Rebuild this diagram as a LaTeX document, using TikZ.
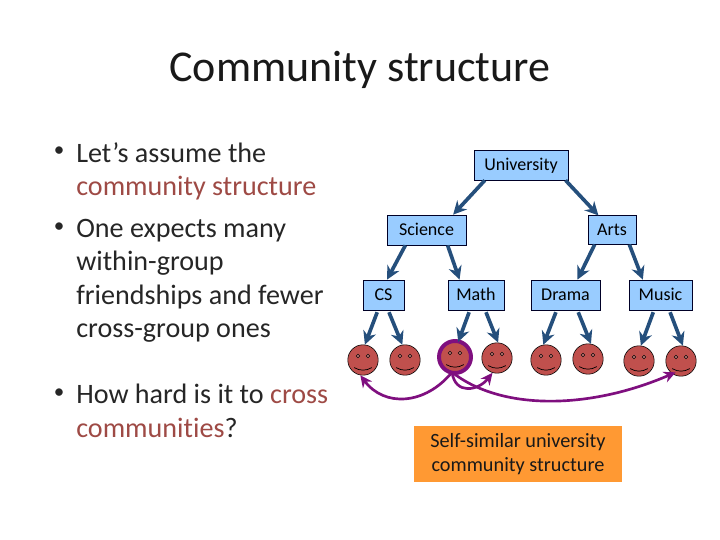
\documentclass[tikz,border=0pt]{standalone}
\usepackage{fontspec}
\setmainfont[Ligatures=CommonOff]{Carlito}
\usetikzlibrary{positioning, arrows.meta}
\definecolor{boxblue}{HTML}{99CCFF}
\definecolor{linkblue}{HTML}{254F7C}
\definecolor{facered}{HTML}{C0504D}
\definecolor{crossing}{HTML}{7F0F7F}
\definecolor{accent}{HTML}{9E4A45}
\definecolor{note}{HTML}{FF9933}
\begin{document}
\begin{tikzpicture}[on grid,
    box/.style={draw=black!85!blue, line width=.5pt, fill=boxblue, minimum height=.75cm, inner sep=0pt, text height=1.9ex, text depth=.3ex, font=\fontsize{12.8}{15}\selectfont},
    face/.style={circle, draw=black, line width=.4pt, fill=facered, minimum size=.76cm, inner sep=0pt},
    link/.style={-{Stealth[length=9.5pt, width=9.5pt]}, draw=linkblue, line width=2.6pt},
    leaflink/.style={link, shorten <=.05cm},
    cross/.style={-{Stealth[length=8.5pt, width=8pt]}, draw=crossing, line width=1.9pt},
    body/.style={anchor=north west, inner sep=0pt, align=left, font=\fontsize{20}{23.8}\selectfont, text=black!85},
    dot/.style={anchor=center, inner sep=0pt, font=\fontsize{15}{18}\selectfont, text=black!85}]
    \useasboundingbox (0,0) rectangle (18,13.5);

    \node[font=\fontsize{31.3}{36}\selectfont, text=black!90] (title) at (9,11.75) {Community structure};

    \node[body] (first) at (1.9,9.95) {Let’s assume the\\\textcolor{accent}{community structure}};
    \node[body] (second) at (1.9,8.03) {One expects many\\within-group\\friendships and fewer\\cross-group ones};
    \node[body] (third) at (1.9,3.9) {How hard is it to \textcolor{accent}{cross}\\\textcolor{accent}{communities}?};
    \node[dot] (d1) at (1.48,9.7) {•};
    \node[dot] (d2) at (1.48,7.8) {•};
    \node[dot] (d3) at (1.48,3.65) {•};

    \node[box, minimum width=2.35cm] (U) at (13.025,9.375) {University};
    \node[box, minimum width=1.975cm] (Sci) [below left=1.625cm and 2.3625cm of U] {Science};
    \node[box, minimum width=1.2cm, minimum height=.71cm] (Arts) [below right=1.625cm and 2.275cm of U] {Arts};
    \node[box, minimum width=1.025cm] (CS) [below left=1.625cm and 1.075cm of Sci] {CS};
    \node[box, minimum width=1.4cm] (Math) [below right=1.625cm and 1.2375cm of Sci] {Math};
    \node[box, minimum width=1.725cm] (Drama) [below left=1.625cm and 1.1625cm of Arts] {Drama};
    \node[box, minimum width=1.575cm] (Music) [below right=1.625cm and 1.2125cm of Arts] {Music};

    \node[face] (f1) [below left=1.625cm and .5125cm of CS] {};
    \node[face] (f2) [below right=1.625cm and .5375cm of CS] {};
    \node[face] (f3) [below left=1.55cm and .525cm of Math] {};
    \node[face] (f4) [below right=1.575cm and .525cm of Math] {};
    \node[face] (f5) [below left=1.625cm and .4875cm of Drama] {};
    \node[face] (f6) [below right=1.6cm and .5625cm of Drama] {};
    \node[face] (f7) [below left=1.65cm and .5375cm of Music] {};
    \node[face] (f8) [below right=1.65cm and .5125cm of Music] {};

    \foreach \f in {f1,f2,f3,f4,f5,f6,f7,f8} {
        \draw[line width=.4pt, fill=facered!70] ([shift={(-.125,.1)}]\f.center) circle (.045);
        \draw[line width=.4pt, fill=facered!70] ([shift={(.125,.1)}]\f.center) circle (.045);
        \draw[line width=.5pt] ([shift={(-.22,-.19)}]\f.center) to[bend right=30] ([shift={(.22,-.19)}]\f.center);
    }
    \draw[draw=crossing, line width=2.8pt] (f3.center) circle (.4);

    \foreach \a/\b in {U.-157/Sci.30, U.-19/Arts.133, Sci.-144/CS.77, Sci.-36/Math.137, Arts.-140/Drama.52, Arts.-40/Music.139}
        \draw[link] (\a) -- (\b);
    \foreach \a/\b in {CS.-110/f1.83, CS.-73/f2.100, Math.-112/f3.78, Math.-59/f4.86, Drama.-120/f5.100, Drama.-52/f6.79, Music.-113/f7.83, Music.-60/f8.83}
        \draw[leaflink] (\a) -- (\b);

    \draw[cross] (f3.-101) .. controls +(-.675,-.825) and +(.6,-.8) .. (f1.-100);
    \draw[cross] (f3.-101) .. controls +(.075,-.575) and +(-.35,-.45) .. (f4.-107);
    \draw[cross] (f3.-101) .. controls +(1.2,-.95) and +(-2.2,-.95) .. ([yshift=.08cm]f8.-110);

    \node[fill=note, minimum width=5.2cm, minimum height=1.4cm, inner sep=0pt, align=center, font=\fontsize{14.4}{16.8}\selectfont, text=black!90] (N) at (12.95,2.14) {Self-similar university\\community structure};
\end{tikzpicture}
\end{document}
